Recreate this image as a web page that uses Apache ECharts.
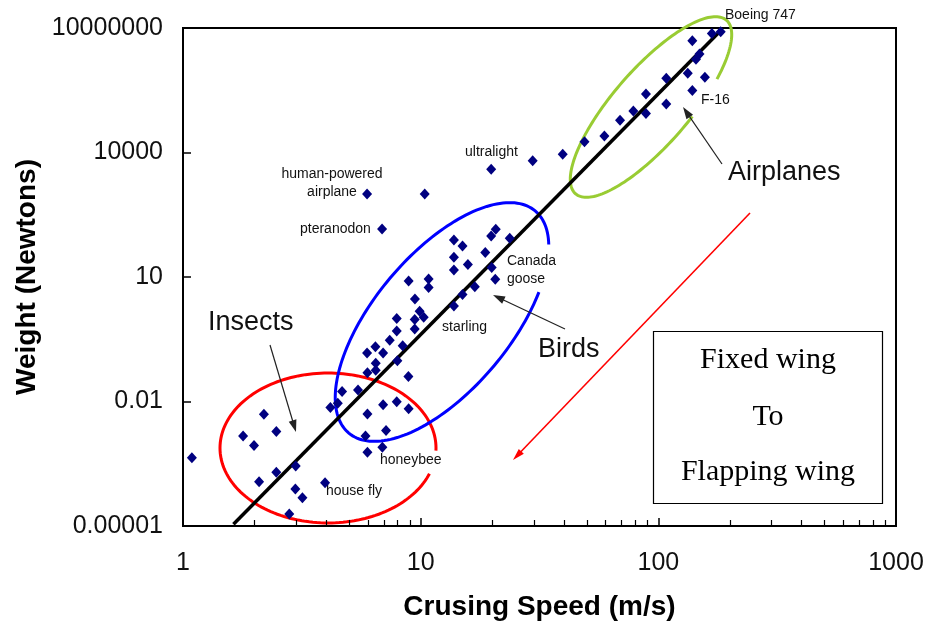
<!DOCTYPE html>
<html><head><meta charset="utf-8">
<script src="https://cdn.jsdelivr.net/npm/echarts@6/dist/echarts.min.js"></script>
<style>html,body{margin:0;padding:0;background:#fff}#c{width:927px;height:625px}</style>
</head><body><div id="c"></div>
<script>
// Cruising speed (m/s) and weight (N)
const speed = [1.09,1.79,2.19,1.99,2.47,2.09,2.47,2.98,2.97,3.18,2.80,3.96,4.17,4.48,4.67,5.45,5.97,6.47,6.47,7.98,8.88,5.97,6.95,7.93,8.9,5.86,7.15,5.97,6.9,
  6.45,8.4,5.95,6.95,7.41,7.93,9.44,7.93,9.44,10.3,9.9,9.46,8.9,10.8,10.8,13.8,15.0,16.9,20.6,19.9,13.8,15.8,13.8,18.7,13.8,15.0,19.8,20.7,23.7,
  6.88,5.95,10.4,19.8,29.6,39.6,48.9,59.3,69,78.5,88.7,88.7,108,108,133,139,157,144,149,139,168,183];
const weight = [4.4e-4,1.48e-3,4.9e-3,8.7e-4,1.9e-3,1.17e-4,1.96e-4,2.8e-4,7.8e-5,4.8e-5,1.95e-5,1.1e-4,7.2e-3,9.1e-3,0.0173,0.019,0.049,0.057,0.083,0.096,0.04,5.0e-3,8.3e-3,9.8e-3,6.7e-3,1.48e-3,2.0e-3,6.0e-4,7.9e-4,
  0.21,0.22,0.147,0.147,0.30,0.50,0.56,1.0,0.95,1.07,1.5,2.95,8.0,8.9,5.6,2.0,3.8,5.8,8.8,17,14.7,20,30,39,78,56,97,141,86,
  144,1000,1000,3950,6300,9100,18200,25000,60000,1e5,87000,257000,148000,614000,810000,310000,650000,1.76e6,2.36e6,4.9e6,7.4e6,8.1e6];
// Trend line end points
const fitSpeed = [1.63, 184];
const fitWeight = [1.1e-5, 8.9e6];
// Axis ranges
const xRange = [1, 1000];
const yRange = [0.00001, 10000000];

const points = speed.map((s, i) => [s, weight[i]]);
const fitLine = fitSpeed.map((s, i) => [s, fitWeight[i]]);

const chart = echarts.init(document.getElementById('c'));

function arrow(x1, y1, x2, y2, color, w, hl, hw) {
  const dx = x2 - x1, dy = y2 - y1, L = Math.hypot(dx, dy), ux = dx / L, uy = dy / L;
  const bx = x2 - ux * hl, by = y2 - uy * hl;
  return [
    {type: 'line', silent: true, shape: {x1: x1, y1: y1, x2: bx + ux, y2: by + uy}, style: {stroke: color, lineWidth: w}},
    {type: 'polygon', silent: true, shape: {points: [[x2, y2], [bx - uy * hw / 2, by + ux * hw / 2], [bx + uy * hw / 2, by - ux * hw / 2]]}, style: {fill: color}}
  ];
}
function ellipse(cx, cy, a, b, rotDeg, gapFrom, gapTo, color, w) {
  const th = rotDeg * Math.PI / 180;
  const pts = [];
  for (let d = gapTo; d <= gapFrom + 360; d += 2) {
    const t = d * Math.PI / 180;
    const ca = a * Math.cos(t), sb = b * Math.sin(t);
    pts.push([cx + ca * Math.cos(th) + sb * Math.sin(th), cy - ca * Math.sin(th) + sb * Math.cos(th)]);
  }
  return {type: 'polyline', silent: true, shape: {points: pts}, style: {stroke: color, lineWidth: w, fill: null}};
}
function txt(x, y, s, size, opts) {
  return {type: 'text', silent: true, x: x, y: y,
    style: Object.assign({text: s, fontSize: size, fontFamily: 'Liberation Sans, Arial, sans-serif', fill: '#111', textVerticalAlign: 'middle', textAlign: 'left'}, (opts || {}))};
}

const small = 14, big = 27;
const serif = 'Liberation Serif, Times New Roman, serif';
const graphics = [
  ellipse(328, 448, 108, 75, 0, 2, 20, '#ff0000', 3),
  ellipse(442, 322, 145, 68, 50, 28, 54, '#0000ff', 3),
  ellipse(651, 107, 115, 38, 49, 57, 80, '#99cc33', 3),
  ...arrow(270, 345, 296, 432, '#222', 1.2, 12, 8),
  ...arrow(565, 329, 493, 295, '#222', 1.2, 12, 8),
  ...arrow(722, 164, 683, 107, '#222', 1.2, 12, 8),
  ...arrow(750, 213, 513, 460, '#ff0000', 1.6, 12, 7),
  txt(725, 15, 'Boeing 747', small),
  txt(701, 100, 'F-16', small),
  txt(465, 152, 'ultralight', small),
  txt(332, 174, 'human-powered', small, {textAlign: 'center'}),
  txt(332, 192, 'airplane', small, {textAlign: 'center'}),
  txt(300, 229, 'pteranodon', small),
  txt(507, 261, 'Canada', small),
  txt(507, 279, 'goose', small),
  txt(442, 327, 'starling', small),
  txt(380, 460, 'honeybee', small),
  txt(326, 491, 'house fly', small),
  txt(208, 323, 'Insects', big),
  txt(538, 350, 'Birds', big),
  txt(728, 173, 'Airplanes', big),
  {type: 'rect', silent: true, shape: {x: 653.5, y: 331.5, width: 229, height: 172}, style: {stroke: '#000', lineWidth: 1.2, fill: '#fff'}},
  txt(768, 360, 'Fixed wing', 30, {textAlign: 'center', fontFamily: serif, fill: '#000'}),
  txt(768, 417, 'To', 30, {textAlign: 'center', fontFamily: serif, fill: '#000'}),
  txt(768, 472, 'Flapping wing', 30, {textAlign: 'center', fontFamily: serif, fill: '#000'})
];

const fmt = v => String(+(+v).toPrecision(6));
const axisFont = {fontSize: 25, fontFamily: 'Liberation Sans, Arial, sans-serif', color: '#111'};

chart.setOption({
  animation: false,
  backgroundColor: '#fff',
  grid: {left: 183, right: 31, top: 28, bottom: 99, containLabel: false, outerBoundsMode: 'none',
    show: true, borderColor: '#000', borderWidth: 2, backgroundColor: 'transparent'},
  xAxis: {
    type: 'log', logBase: 10, min: xRange[0], max: xRange[1],
    name: 'Crusing Speed (m/s)', nameLocation: 'middle', nameGap: 67,
    nameTextStyle: {fontSize: 28, fontWeight: 'bold', fontFamily: 'Liberation Sans, Arial, sans-serif', color: '#000'},
    axisLine: {lineStyle: {color: '#000', width: 2}},
    axisTick: {inside: true, length: 8, lineStyle: {color: '#000', width: 1.5}},
    minorTick: {show: true, splitNumber: 9, length: 6, lineStyle: {color: '#000', width: 1.2}},
    axisLabel: Object.assign({margin: 25, formatter: fmt}, axisFont),
    splitLine: {show: false}, minorSplitLine: {show: false}
  },
  yAxis: {
    type: 'log', logBase: 10, min: yRange[0], max: yRange[1], interval: 3,
    name: 'Weight (Newtons)', nameLocation: 'middle', nameGap: 140,
    nameTextStyle: {fontSize: 28, fontWeight: 'bold', fontFamily: 'Liberation Sans, Arial, sans-serif', color: '#000'},
    axisLine: {lineStyle: {color: '#000', width: 2}},
    axisTick: {inside: true, length: 8, lineStyle: {color: '#000', width: 1.5}},
    axisLabel: Object.assign({margin: 20, formatter: fmt}, axisFont),
    splitLine: {show: false}
  },
  series: [
    {type: 'line', data: fitLine, symbol: 'none', lineStyle: {color: '#000', width: 3.5}, z: 2, silent: true},
    {type: 'scatter', data: points, symbol: 'diamond', symbolSize: [10, 11], itemStyle: {color: '#000080', opacity: 1}, z: 3, silent: true}
  ],
  graphic: graphics
});
</script></body></html>
